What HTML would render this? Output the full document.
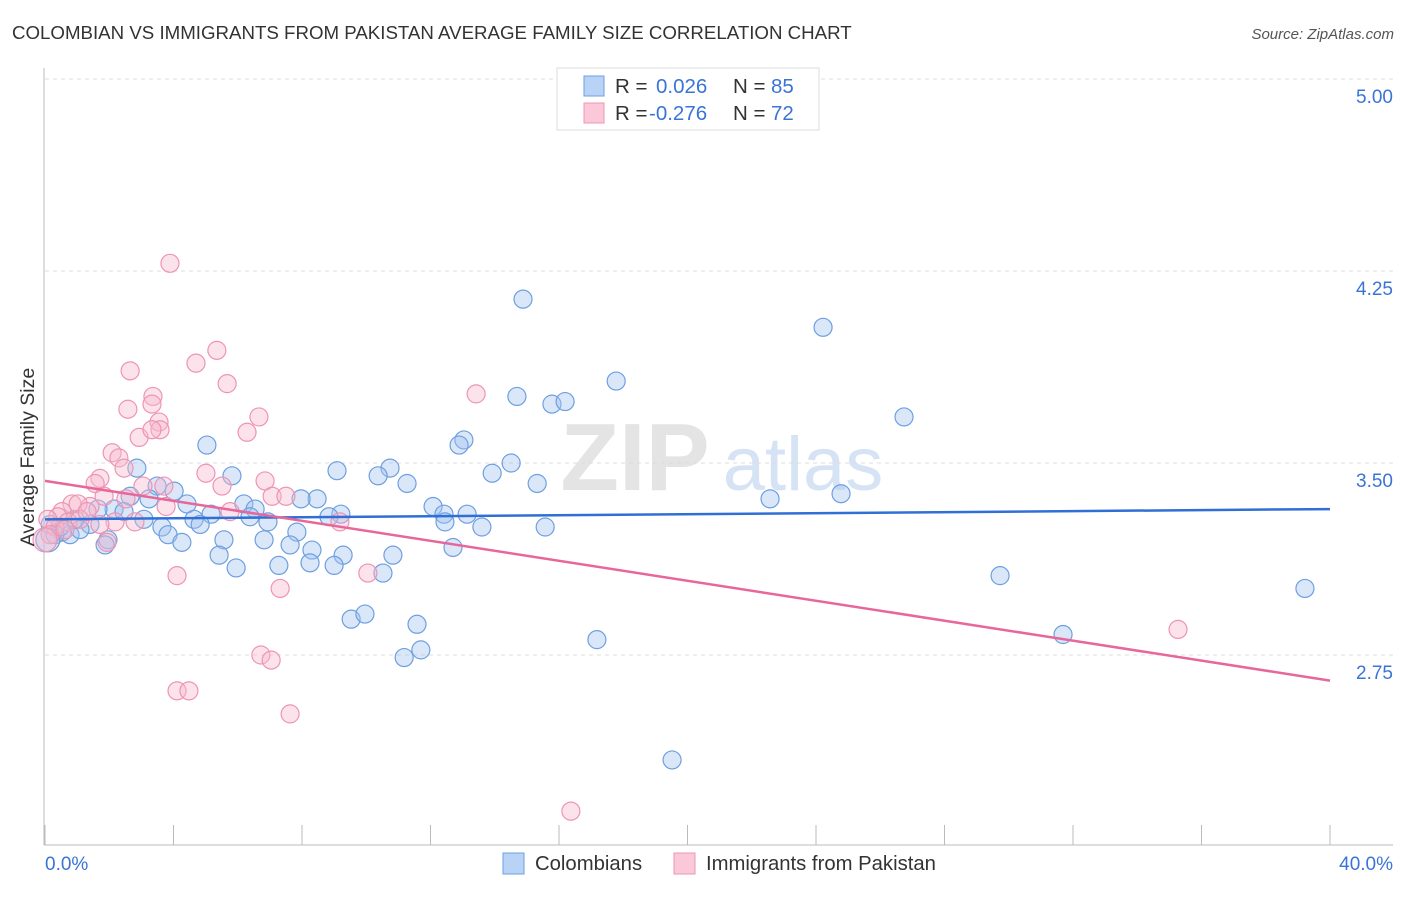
<!DOCTYPE html>
<html><head><meta charset="utf-8">
<style>
body{margin:0;background:#fff;font-family:"Liberation Sans",sans-serif;}
svg text{font-family:"Liberation Sans",sans-serif;}
</style></head>
<body>
<svg id="chart" width="1406" height="892" xmlns="http://www.w3.org/2000/svg">
<text x="12" y="39" font-size="18.7" fill="#333">COLOMBIAN VS IMMIGRANTS FROM PAKISTAN AVERAGE FAMILY SIZE CORRELATION CHART</text>
<text x="1394" y="39" font-size="15" fill="#555" text-anchor="end" font-style="italic">Source: ZipAtlas.com</text>
<g>
<text x="635" y="490" font-size="96" fill="#e4e4e4" text-anchor="middle" font-family="Liberation Serif" font-weight="bold">ZIP</text>
<text x="803" y="490" font-size="76" fill="#d5e3f5" text-anchor="middle">atlas</text>
</g>
<g id="grid"></g>
<g id="axes"></g>
<g id="pts"></g>
<g id="trends"></g>
<text transform="translate(34,457) rotate(-90)" font-size="19.5" fill="#333" text-anchor="middle">Average Family Size</text>
<g>
<rect x="557" y="68" width="262" height="62" fill="#fff" stroke="#ddd"/>
<rect x="584" y="76" width="20" height="20" fill="#b9d3f7" stroke="#6e9fe0"/>
<rect x="584" y="103" width="20" height="20" fill="#fac8d8" stroke="#ee94b2"/>
<text x="615" y="93" font-size="20.5" fill="#333">R = </text><text x="656" y="93" font-size="20.5" fill="#3a74d6">0.026</text>
<text x="733" y="93" font-size="20.5" fill="#333">N = </text><text x="771" y="93" font-size="20.5" fill="#3a74d6">85</text>
<text x="615" y="120" font-size="20.5" fill="#333">R = </text><text x="649" y="120" font-size="20.5" fill="#3a74d6">-0.276</text>
<text x="733" y="120" font-size="20.5" fill="#333">N = </text><text x="771" y="120" font-size="20.5" fill="#3a74d6">72</text>
</g>
<g>
<rect x="503" y="853" width="21" height="21" fill="#b9d3f7" stroke="#6e9fe0"/>
<text x="535" y="870" font-size="20.3" fill="#333">Colombians</text>
<rect x="674" y="853" width="21" height="21" fill="#fac8d8" stroke="#ee94b2"/>
<text x="706" y="870" font-size="20.3" fill="#333">Immigrants from Pakistan</text>
</g>
</svg>
<script>
const yTicks=[5.00,4.25,3.50,2.75];
const xTickLabels=["0.0%","40.0%"];
const blueX=[14.88,24.22,17.78,14.69,15.78,16.19,26.74,5.04,13.04,12.89,14.51,2.86,9.09,10.74,10.37,13.92,5.82,11.27,15.32,4.02,3.49,2.65,3.24,4.42,8.47,6.19,7.97,12.08,6.54,9.21,13.14,8.84,12.42,12.45,13.60,15.57,22.57,24.78,2.15,2.46,1.65,3.08,4.64,5.17,6.38,6.94,3.64,4.83,7.84,3.83,1.40,4.26,5.57,6.82,7.63,8.31,1.96,0.53,0.78,1.09,0.16,0.31,5.42,9.28,10.83,5.95,7.28,8.25,9.00,10.52,12.70,9.53,9.96,11.58,11.70,11.18,17.18,29.73,31.69,39.22,19.52,1.87,0.93,0.47,0.09];
const blueY=[4.14,4.03,3.82,3.76,3.73,3.74,3.68,3.57,3.59,3.57,3.50,3.48,3.47,3.48,3.45,3.46,3.45,3.42,3.42,3.39,3.41,3.37,3.36,3.34,3.36,3.34,3.36,3.33,3.32,3.30,3.30,3.29,3.30,3.27,3.25,3.25,3.36,3.38,3.32,3.31,3.32,3.28,3.28,3.30,3.29,3.27,3.25,3.26,3.23,3.22,3.26,3.19,3.20,3.20,3.18,3.16,3.20,3.23,3.22,3.24,3.26,3.22,3.14,3.14,3.14,3.09,3.10,3.11,3.10,3.07,3.17,2.89,2.91,2.87,2.77,2.74,2.81,3.06,2.83,3.01,2.34,3.18,3.28,3.25,3.20];
const pinkX=[3.89,5.35,4.70,2.65,5.67,13.42,3.36,3.33,2.58,6.66,3.55,2.93,3.58,6.29,3.33,2.09,2.30,2.46,5.01,6.85,1.71,3.70,5.51,1.56,3.05,2.52,1.84,7.07,7.50,0.84,1.40,1.03,3.77,5.76,2.80,2.18,0.53,0.40,0.09,0.72,1.09,0.31,0.16,1.71,1.93,9.18,4.11,10.05,7.32,6.72,7.04,4.11,4.48,7.63,16.37,35.27,1.31,0.62,0.0];
const pinkY=[4.28,3.94,3.89,3.86,3.81,3.77,3.76,3.73,3.71,3.68,3.66,3.60,3.63,3.62,3.63,3.54,3.52,3.48,3.46,3.43,3.44,3.41,3.41,3.42,3.41,3.36,3.37,3.37,3.37,3.34,3.33,3.34,3.33,3.31,3.27,3.27,3.31,3.29,3.28,3.27,3.28,3.25,3.22,3.26,3.19,3.27,3.06,3.07,3.01,2.75,2.73,2.61,2.61,2.52,2.14,2.85,3.31,3.24,3.20];
const trendX=[0,40];
const blueTrend=[3.28,3.32];
const pinkTrend=[3.43,2.65];
const NS="http://www.w3.org/2000/svg";
const xs=v=>45+v*(1285/40);
const ys=v=>79+(5-v)*256;
function mk(tag,attrs,parent){const e=document.createElementNS(NS,tag);for(const k in attrs)e.setAttribute(k,attrs[k]);parent.appendChild(e);return e;}
const grid=document.getElementById('grid'),axes=document.getElementById('axes'),pts=document.getElementById('pts'),tr=document.getElementById('trends');
yTicks.forEach(t=>{
 const l=mk('line',{x1:45,x2:1393,y1:ys(t),y2:ys(t),stroke:'#ddd','stroke-dasharray':'4,4'},grid);
 
 
 const tx=mk('text',{x:1393,y:ys(t)+24,'font-size':19,fill:'#3a74d6','text-anchor':'end'},grid);
 tx.textContent=t.toFixed(2);
 
 
});
mk('line',{x1:44,x2:44,y1:68,y2:845,stroke:'#bbb'},axes);
mk('line',{x1:44,x2:1393,y1:845,y2:845,stroke:'#bbb'},axes);
for(let i=0;i<=10;i++){const l=mk('line',{x1:xs(i*4),x2:xs(i*4),y1:825,y2:845,stroke:'#bbb'},axes);
 
 }
const xl0=mk('text',{x:45,y:870,'font-size':19,fill:'#3a74d6'},axes);xl0.textContent=xTickLabels[0];


const xl1=mk('text',{x:1393,y:870,'font-size':19,fill:'#3a74d6','text-anchor':'end'},axes);xl1.textContent=xTickLabels[1];


blueX.forEach((v,i)=>{const c=mk('circle',{cx:xs(v),cy:ys(blueY[i]),r:i==blueX.length-1?12:9,fill:'rgba(160,196,240,0.4)',stroke:'#6e9fe0','stroke-width':1.2},pts);
 
 });
pinkX.forEach((v,i)=>{const c=mk('circle',{cx:xs(v),cy:ys(pinkY[i]),r:i==pinkX.length-1?12:9,fill:'rgba(248,184,206,0.4)',stroke:'#ee94b2','stroke-width':1.2},pts);
 
 });
const bl=mk('line',{x1:xs(trendX[0]),x2:xs(trendX[1]),y1:ys(blueTrend[0]),y2:ys(blueTrend[1]),stroke:'#2f6fd6','stroke-width':2.5},tr);


const pl=mk('line',{x1:xs(trendX[0]),x2:xs(trendX[1]),y1:ys(pinkTrend[0]),y2:ys(pinkTrend[1]),stroke:'#e8679a','stroke-width':2.5},tr);


</script>
</body></html>
